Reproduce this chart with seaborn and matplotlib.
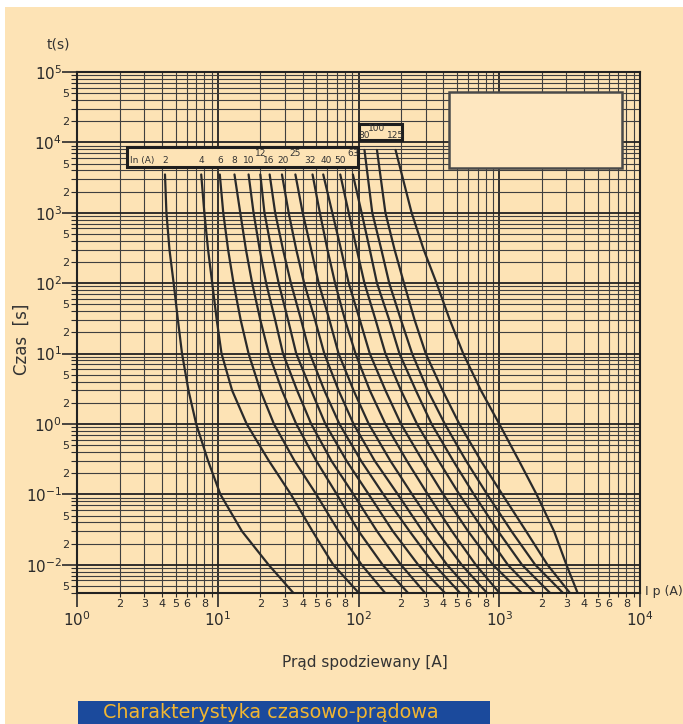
import numpy as np
import pandas as pd
import seaborn as sns
import matplotlib.pyplot as plt
from matplotlib.ticker import LogLocator, FuncFormatter
from matplotlib.patches import Rectangle

# Rated currents In (A) and the prospective current (A)
ratings = [2, 4, 6, 8, 10, 12, 16, 20, 25, 32, 40, 50, 63, 80, 100, 125]
t_low = [3500, 1000, 300, 100, 30, 10, 3, 1, 0.3, 0.1, 0.03, 0.01, 0.004]
t_high = [7800, 1000, 300, 100, 30, 10, 3, 1, 0.3, 0.1, 0.03, 0.01, 0.004]

cur_2 = [4.2, 4.3, 4.52, 4.84, 5.19, 5.55, 6.17, 7.0, 8.5, 10.4, 14.8, 22.9, 34.3]
cur_4 = [7.6, 8.0, 8.5, 9.1, 9.8, 10.6, 12.6, 16, 23, 33, 47, 66, 100]
cur_6 = [10.3, 10.9, 11.8, 12.9, 14.5, 16.5, 20, 25, 35, 50, 72, 105, 154]
cur_8 = [13.1, 14.4, 15.8, 17.5, 20, 23, 28.5, 36, 50, 70, 100, 148, 224]
cur_10 = [16.5, 17.9, 19.8, 22, 25.5, 29, 36.5, 46, 64, 92, 135, 200, 296]
cur_12 = [20, 21.4, 24, 27, 31.5, 36, 46, 58, 82, 118, 175, 265, 410]
cur_16 = [23.3, 25.5, 29, 33, 39, 45, 57, 73, 104, 150, 230, 345, 525]
cur_20 = [28.5, 31.8, 36, 41, 49, 57, 72, 92, 130, 190, 285, 425, 640]
cur_25 = [35.5, 40, 46, 52, 62, 72, 92, 118, 168, 240, 360, 540, 815]
cur_32 = [47, 53, 60, 68, 80, 95, 120, 155, 220, 310, 460, 680, 1000]
cur_40 = [56, 65, 75, 85, 102, 120, 155, 200, 285, 400, 600, 900, 1440]
cur_50 = [74, 85, 97, 110, 132, 155, 200, 260, 370, 520, 780, 1150, 1780]
cur_63 = [91, 105, 120, 135, 165, 195, 255, 330, 470, 660, 980, 1450, 2290]
cur_80 = [110, 125, 145, 165, 200, 240, 310, 410, 580, 820, 1220, 1800, 2830]
cur_100 = [135, 155, 180, 210, 250, 300, 395, 520, 740, 1050, 1550, 2200, 3170]
cur_125 = [183, 238, 290, 358, 445, 554, 740, 1000, 1380, 1840, 2450, 3000, 3600]

curves = [cur_2, cur_4, cur_6, cur_8, cur_10, cur_12, cur_16, cur_20,
          cur_25, cur_32, cur_40, cur_50, cur_63, cur_80, cur_100, cur_125]

rows = []
for r, cur in zip(ratings, curves):
    times = t_high if r >= 80 else t_low
    for i, t in zip(cur, times):
        rows.append({'rating': str(r), 'I': i, 't': t})
df = pd.DataFrame(rows)

BEIGE = '#fde3b5'
INK = '#2a2a2a'

sns.set_theme(style='white')
plt.rcParams['font.family'] = ['DejaVu Sans']

fig = plt.figure(figsize=(6.83, 7.24), dpi=100, facecolor='white')
fig.patches.append(Rectangle((5 / 683, 0), 1, 1 - 7 / 724, transform=fig.transFigure,
                             facecolor=BEIGE, edgecolor='none', zorder=-10))
ax = fig.add_axes([0.1132, 0.181, 0.8238, 0.7196])
ax.set_facecolor(BEIGE)

sns.lineplot(data=df, x='I', y='t', hue='rating', units='rating', estimator=None,
             sort=False, palette={str(r): INK for r in ratings}, legend=False,
             lw=1.6, ax=ax)

ax.set_xscale('log')
ax.set_yscale('log')
ax.set_xlim(1, 1e4)
ax.set_ylim(10 ** -2.4, 1e5)
ax.set_xlabel('')
ax.set_ylabel('')

# log grid
for axis in (ax.xaxis, ax.yaxis):
    axis.set_major_locator(LogLocator(base=10, numticks=20))
    axis.set_minor_locator(LogLocator(base=10, subs=np.arange(2, 10), numticks=200))
ax.set_axisbelow(True)
ax.grid(which='major', color='#222222', lw=1.3)
ax.grid(which='minor', color='#3f3f3f', lw=0.8)


def major_fmt(v, p):
    return r'$\mathregular{10^{%d}}$' % round(np.log10(v))


def mantissa(v):
    return int(round(v / 10 ** np.floor(np.log10(v) + 1e-9)))


ax.xaxis.set_major_formatter(FuncFormatter(major_fmt))
ax.yaxis.set_major_formatter(FuncFormatter(major_fmt))
ax.xaxis.set_minor_formatter(FuncFormatter(
    lambda v, p: str(mantissa(v)) if mantissa(v) in (2, 3, 4, 5, 6, 8) else ''))
ax.yaxis.set_minor_formatter(FuncFormatter(
    lambda v, p: str(mantissa(v)) if mantissa(v) in (2, 5) else ''))

ax.tick_params(which='both', bottom=True, left=True, direction='out', colors='#2a2a2a')
ax.tick_params(axis='x', which='major', length=10, width=1.2, pad=2.5, labelsize=11)
ax.tick_params(axis='x', which='minor', length=3, width=0.8, pad=1, labelsize=8)
ax.tick_params(axis='y', which='major', length=10.5, width=1.2, pad=0.5, labelsize=11)
ax.tick_params(axis='y', which='minor', length=4.5, width=0.8, pad=1, labelsize=8)
for s in ax.spines.values():
    s.set_color('#222222')
    s.set_linewidth(1.5)

# In (A) label boxes
ax.add_patch(Rectangle((2.27, 4467), 98.9 - 2.27, 8610 - 4467, facecolor=BEIGE,
                       edgecolor='#1e1e1e', lw=2.2, zorder=5))
ax.add_patch(Rectangle((100.7, 10800), 202 - 100.7, 18240 - 10800, facecolor=BEIGE,
                       edgecolor='#1e1e1e', lw=2.2, zorder=5))
ax.add_patch(Rectangle((437, 4325), 7430 - 437, 52000 - 4325, facecolor='#fee7c0',
                       edgecolor='#4a4a4a', lw=1.8, zorder=5))
ax.text(2.35, 5450, 'In (A)', fontsize=6.5, color='#333333', va='center', zorder=6)
raised = {12, 25, 63, 100}
nudge = {32: 0.96, 40: 1.05, 16: 0.98, 20: 1.02}
for r, cur in zip(ratings, curves):
    if r >= 80:
        y = 15500 if r in raised else 12700
    else:
        y = 6840 if r in raised else 5450
    ax.text(cur[0] * nudge.get(r, 1), y, str(r), fontsize=6.5, color='#333333',
            ha='center', va='center', zorder=6)

fig.text(47 / 683, 1 - 45 / 724, 't(s)', fontsize=10, color='#333333', va='center')
fig.text(645 / 683, 1 - 591 / 724, 'I p (A)', fontsize=9, color='#333333', va='center')
fig.text(22 / 683, 1 - 339 / 724, 'Czas  [s]', fontsize=12, color='#333333',
         rotation=90, ha='center', va='center')
fig.text(365 / 683, 1 - 662 / 724, 'Prąd spodziewany [A]', fontsize=11, color='#333333',
         ha='center', va='center')
fig.patches.append(Rectangle((78 / 683, 0), 412 / 683, 23 / 724, transform=fig.transFigure,
                             facecolor='#1b4a9c', edgecolor='none', zorder=-5))
fig.text(103 / 683, 1 - 713 / 724, 'Charakterystyka czasowo-prądowa', fontsize=13.8,
         color='#f2b632', va='center')

fig.savefig('out.png', dpi=100, facecolor=fig.get_facecolor())
